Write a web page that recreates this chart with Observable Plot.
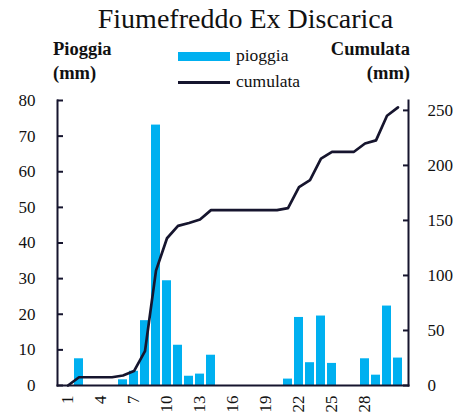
<!DOCTYPE html>
<html><head><meta charset="utf-8">
<script src="https://cdn.jsdelivr.net/npm/d3@7"></script>
<script src="https://cdn.jsdelivr.net/npm/@observablehq/plot@0.6"></script>
<style>
body{margin:0;background:#fff;}
#wrap{position:relative;width:456px;height:414px;font-family:"Liberation Serif",serif;color:#111;}
#wrap svg{position:absolute;left:0;top:0;}
.t{position:absolute;white-space:nowrap;}
</style></head>
<body><div id="wrap"></div>
<script>
const days = d3.range(1, 32);
const pioggia = [0, 7.5, 0, 0, 0, 1.6, 4.0, 18.2, 73.1, 29.4, 11.3, 2.6, 3.2, 8.5, 0, 0, 0, 0, 0, 0,
  1.8, 19.1, 6.4, 19.5, 6.2, 0, 0, 7.5, 2.9, 22.3, 7.7];
const cumulata = [0, 7.5, 7.5, 7.5, 7.5, 9.1, 13.1, 31.3, 104.4, 133.8, 145.1, 147.7, 150.9, 159.4, 159.4,
  159.4, 159.4, 159.4, 159.4, 159.4, 161.2, 180.3, 186.7, 206.2, 212.4, 212.4, 212.4, 219.9, 222.8, 245.1, 252.8];
const xTicks = [1, 4, 7, 10, 13, 16, 19, 22, 25, 28];
const leftTicks = [0, 10, 20, 30, 40, 50, 60, 70, 80];
const rightTicks = [0, 50, 100, 150, 200, 250];
const leftMax = 80, rightMax = 259;
const k = leftMax / rightMax;

const data = days.map((d, i) => ({day: d, p: pioggia[i], c: cumulata[i] * k}));
const ink = "#16152e";
const font = "Liberation Serif";
const none = () => "";

const chart = Plot.plot({
  width: 456, height: 414,
  marginLeft: 57, marginRight: 48, marginTop: 100, marginBottom: 29,
  style: {fontFamily: font, fontSize: "17px", color: "#111", background: "transparent"},
  x: {type: "band", domain: days, paddingInner: 0.16, paddingOuter: 0.08, label: null},
  y: {domain: [0, leftMax], label: null},
  marks: [
    Plot.barY(data, {x: "day", y: "p", fill: "#00b0f0"}),
    Plot.lineY(data, {x: "day", y: "c", stroke: ink, strokeWidth: 2.7}),
    Plot.axisX({ticks: xTicks, tickSize: 0, tickPadding: 10, tickRotate: -90, label: null, fontSize: 17}),
    Plot.axisY({ticks: leftTicks, anchor: "left", tickSize: 0, tickPadding: 22, label: null, fontSize: 17}),
    Plot.axisY({ticks: leftTicks, anchor: "left", tickSize: 6, dx: 6, tickFormat: none, label: null, stroke: ink, strokeWidth: 2}),
    Plot.axisY(rightTicks.map(v => v * k), {anchor: "right", tickSize: 0, tickPadding: 19, label: null,
      tickFormat: d => String(Math.round(d / k)), fontSize: 17}),
    Plot.axisY(rightTicks.map(v => v * k), {anchor: "right", tickSize: 6, dx: -6, tickFormat: none, label: null, stroke: ink, strokeWidth: 2}),
    Plot.frame({anchor: "left", stroke: ink, strokeWidth: 2}),
    Plot.frame({anchor: "right", stroke: ink, strokeWidth: 2}),
    Plot.frame({anchor: "bottom", stroke: ink, strokeWidth: 2})
  ]
});
const wrap = document.getElementById("wrap");
wrap.appendChild(chart);

function addText(txt, css) {
  const el = document.createElement("div");
  el.className = "t";
  el.textContent = txt;
  el.style.cssText = css;
  wrap.appendChild(el);
  return el;
}
addText("Fiumefreddo Ex Discarica", "left:0;width:491px;text-align:center;top:3px;font-size:28px;");
addText("Pioggia", "left:53px;top:39px;font-size:18.5px;font-weight:bold;");
addText("(mm)", "left:53px;top:63px;font-size:18.5px;font-weight:bold;");
addText("Cumulata", "right:46px;top:39px;font-size:18.5px;font-weight:bold;text-align:right;");
addText("(mm)", "right:46px;top:63px;font-size:18.5px;font-weight:bold;text-align:right;");
// legend
const sw1 = document.createElement("div");
sw1.style.cssText = "position:absolute;left:178px;top:52px;width:52px;height:9px;background:#00b0f0;";
wrap.appendChild(sw1);
const sw2 = document.createElement("div");
sw2.style.cssText = "position:absolute;left:178px;top:81px;width:52px;height:3px;background:" + ink + ";";
wrap.appendChild(sw2);
addText("pioggia", "left:236px;top:45px;font-size:17.5px;");
addText("cumulata", "left:236px;top:71px;font-size:17.5px;");
</script></body></html>
